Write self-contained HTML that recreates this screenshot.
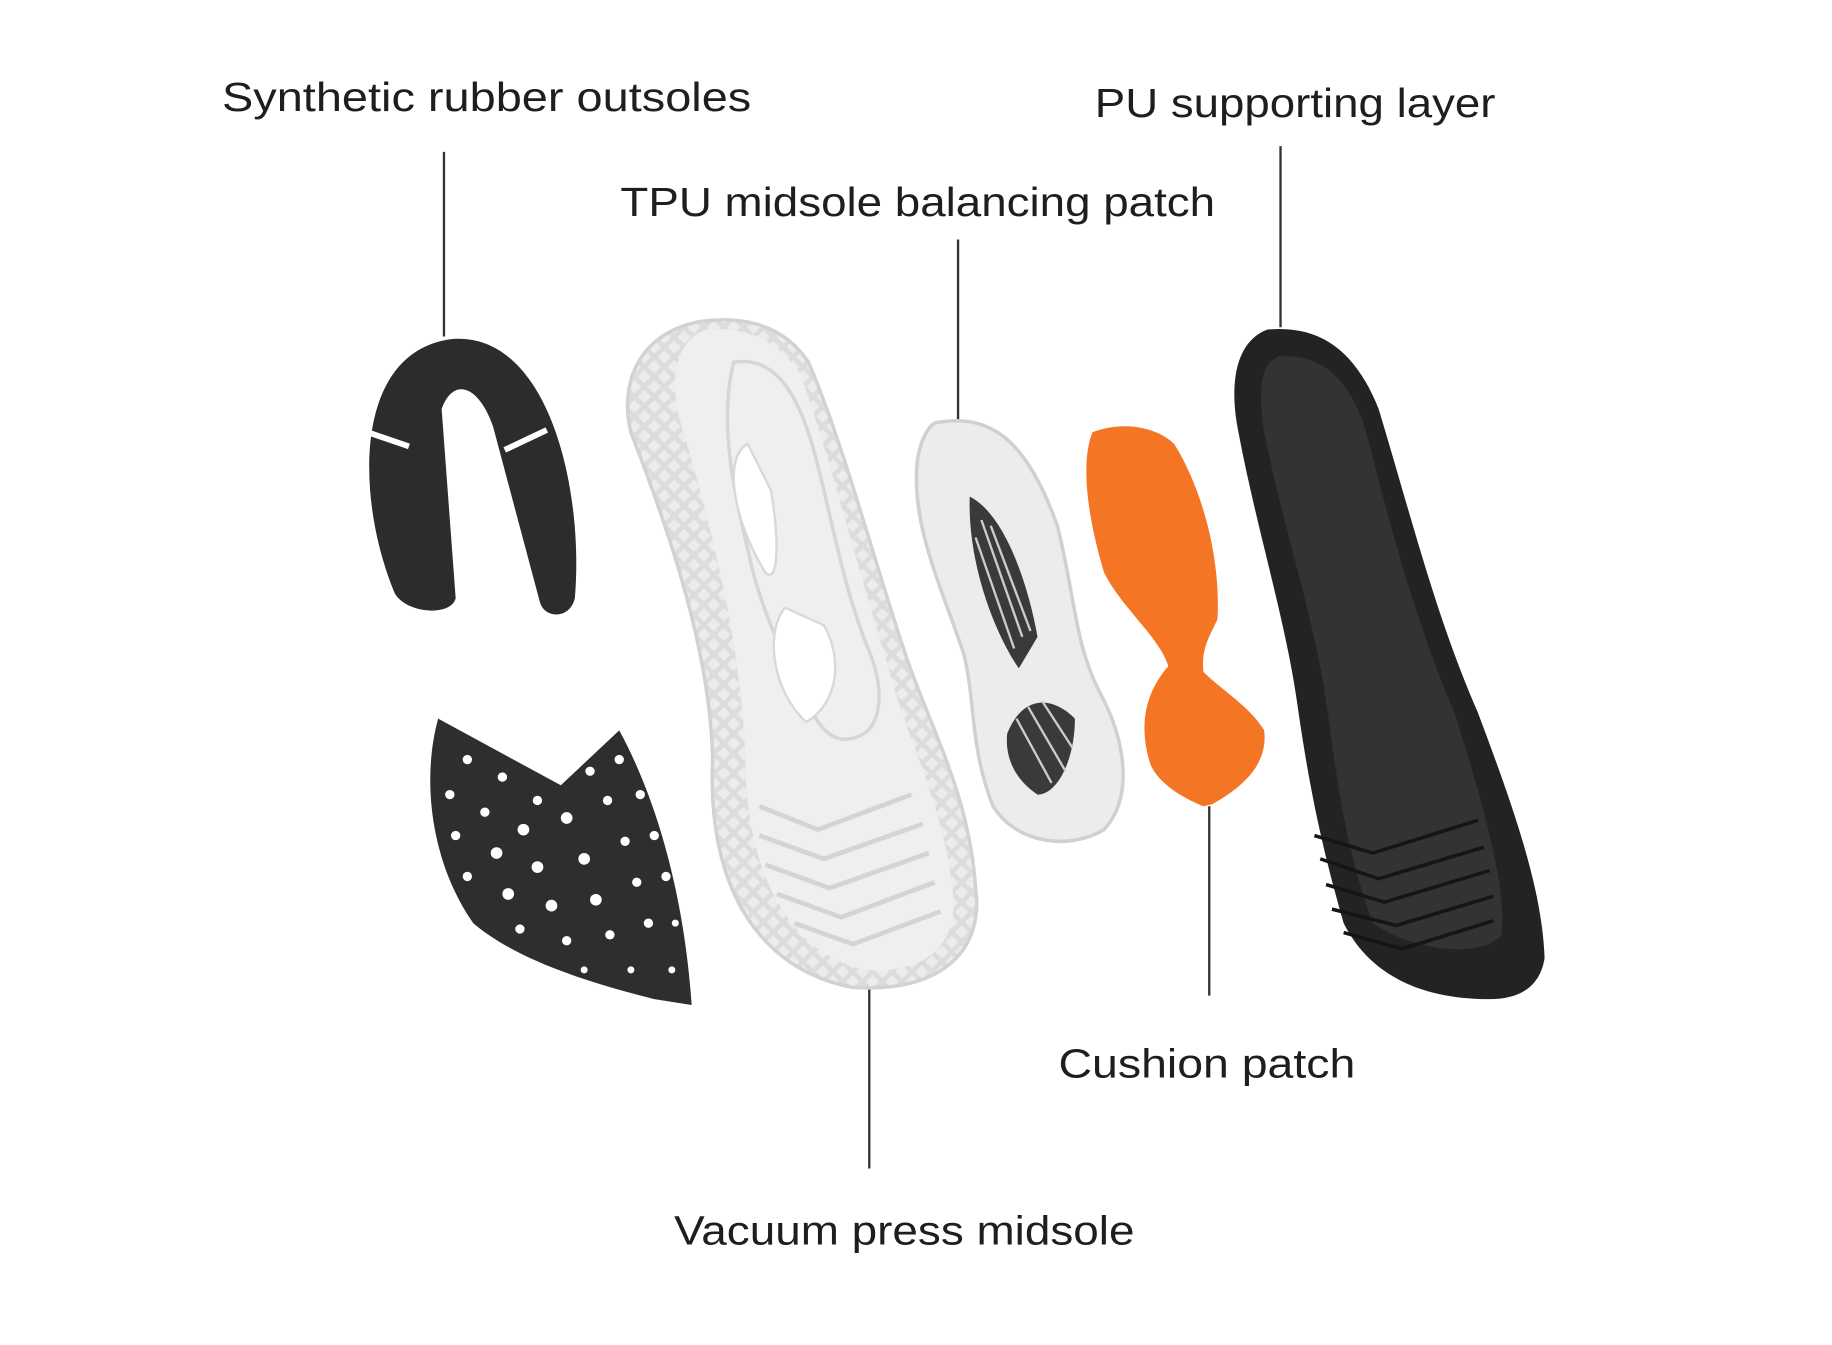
<!DOCTYPE html>
<html><head><meta charset="utf-8"><style>
html,body{margin:0;padding:0;background:#fff;}
svg{display:block;}
text{font-family:"Liberation Sans",sans-serif;fill:#1e1e1e;font-size:35px;}
</style></head><body>
<svg width="1832" height="1345" viewBox="0 0 1568 1151" preserveAspectRatio="none" xmlns="http://www.w3.org/2000/svg">
<defs>
<pattern id="lat" width="12" height="12" patternUnits="userSpaceOnUse" patternTransform="rotate(45)">
<rect width="12" height="12" fill="#dcdcdc"/><rect x="2" y="2" width="8" height="8" fill="#ececec"/>
</pattern>
</defs>
<rect width="1568" height="1151" fill="#fff"/>
<!-- labels -->
<text x="190" y="95" textLength="453" lengthAdjust="spacingAndGlyphs">Synthetic rubber outsoles</text>
<text x="937" y="100" textLength="343" lengthAdjust="spacingAndGlyphs">PU supporting layer</text>
<text x="531" y="185" textLength="509" lengthAdjust="spacingAndGlyphs">TPU midsole balancing patch</text>
<text x="906" y="922" textLength="254" lengthAdjust="spacingAndGlyphs">Cushion patch</text>
<text x="577" y="1065" textLength="394" lengthAdjust="spacingAndGlyphs">Vacuum press midsole</text>
<g stroke="#333" stroke-width="2">
<line x1="380" y1="130" x2="380" y2="288"/>
<line x1="1096" y1="125" x2="1096" y2="280"/>
<line x1="820" y1="205" x2="820" y2="362"/>
<line x1="1035" y1="690" x2="1035" y2="852"/>
<line x1="744" y1="840" x2="744" y2="1000"/>
</g>
<!-- horseshoe outsole -->
<path d="M338,508 C305,430 300,300 388,290 C470,285 500,420 492,512 C488,530 466,530 462,515 L422,365 C410,330 388,322 378,350 L390,512 C386,528 348,525 338,508 Z" fill="#2c2c2c"/>
<path d="M315,370 L350,382" stroke="#fff" stroke-width="5"/>
<path d="M432,385 L468,368" stroke="#fff" stroke-width="5"/>
<!-- mesh forefoot -->
<path d="M375,615 L480,672 L530,625 C560,680 585,760 592,860 L560,855 C500,840 440,820 405,790 C370,740 360,670 375,615 Z" fill="#2e2e2e"/>
<g fill="#fff">
<circle cx="400" cy="650" r="4"/><circle cx="430" cy="665" r="4"/><circle cx="460" cy="685" r="4"/><circle cx="505" cy="660" r="4"/><circle cx="530" cy="650" r="4"/>
<circle cx="385" cy="680" r="4"/><circle cx="415" cy="695" r="4"/><circle cx="448" cy="710" r="5"/><circle cx="485" cy="700" r="5"/><circle cx="520" cy="685" r="4"/><circle cx="548" cy="680" r="4"/>
<circle cx="390" cy="715" r="4"/><circle cx="425" cy="730" r="5"/><circle cx="460" cy="742" r="5"/><circle cx="500" cy="735" r="5"/><circle cx="535" cy="720" r="4"/><circle cx="560" cy="715" r="4"/>
<circle cx="400" cy="750" r="4"/><circle cx="435" cy="765" r="5"/><circle cx="472" cy="775" r="5"/><circle cx="510" cy="770" r="5"/><circle cx="545" cy="755" r="4"/><circle cx="570" cy="750" r="4"/>
<circle cx="445" cy="795" r="4"/><circle cx="485" cy="805" r="4"/><circle cx="522" cy="800" r="4"/><circle cx="555" cy="790" r="4"/><circle cx="578" cy="790" r="3"/>
<circle cx="500" cy="830" r="3"/><circle cx="540" cy="830" r="3"/><circle cx="575" cy="830" r="3"/>
</g>
<!-- white midsole -->
<path d="M600,275 C545,285 530,330 540,370 C575,460 608,560 610,650 C605,760 650,830 730,845 C810,850 842,810 835,760 C830,680 795,620 775,560 C748,480 722,380 692,310 C672,280 640,270 600,275 Z" fill="url(#lat)" stroke="#d2d2d2" stroke-width="3"/>
<path d="M605,282 C575,292 572,330 585,370 C612,460 635,560 638,650 C638,740 672,815 740,830 C800,835 822,800 815,760 C808,690 775,630 760,570 C735,490 710,390 685,320 C665,290 638,280 605,282 Z" fill="#efefef"/>
<path d="M628,310 C660,305 680,330 695,380 C712,440 720,500 745,560 C760,600 750,625 735,630 C712,640 700,620 690,600 C670,560 650,520 640,470 C628,420 615,360 628,310 Z" fill="none" stroke="#d6d6d6" stroke-width="3"/>
<path d="M640,380 C620,390 625,440 655,490 C665,500 668,470 660,420 Z" fill="#fff" stroke="#d8d8d8" stroke-width="2"/>
<path d="M672,520 C655,540 660,590 690,618 C720,600 720,560 705,535 Z" fill="#fff" stroke="#d8d8d8" stroke-width="2"/>
<g fill="none" stroke="#d4d4d4" stroke-width="4">
<path d="M650,690 L700,710 L780,680"/><path d="M650,715 L705,735 L790,705"/><path d="M655,740 L710,760 L795,730"/><path d="M665,765 L720,785 L800,755"/><path d="M680,790 L730,808 L805,780"/>
</g>
<!-- TPU patch -->
<path d="M800,362 C850,352 880,380 905,450 C920,510 920,550 940,590 C962,630 972,680 945,710 C915,728 870,722 850,690 C830,640 835,600 825,560 C805,500 780,450 785,395 C788,375 795,365 800,362 Z" fill="#ececec" stroke="#d0d0d0" stroke-width="3"/>
<path d="M830,425 C860,440 880,500 888,545 L872,572 C850,540 828,480 830,425 Z" fill="#3a3a3a"/>
<path d="M862,628 C875,595 900,595 920,615 C920,650 905,680 888,680 C870,668 860,650 862,628 Z" fill="#3a3a3a"/>
<g stroke="#ccc" stroke-width="2">
<line x1="840" y1="445" x2="875" y2="545"/><line x1="848" y1="450" x2="882" y2="540"/><line x1="835" y1="460" x2="868" y2="555"/>
<line x1="870" y1="615" x2="900" y2="670"/><line x1="880" y1="605" x2="912" y2="660"/><line x1="892" y1="600" x2="918" y2="640"/>
</g>
<!-- orange cushion -->
<path d="M935,370 C960,360 990,365 1005,380 C1030,420 1045,480 1042,530 C1035,545 1028,555 1030,575 C1045,590 1070,605 1082,625 C1085,650 1070,670 1038,688 L1030,690 C1010,682 992,670 985,655 C975,625 978,595 1000,570 C992,545 960,520 945,490 C930,440 925,395 935,370 Z" fill="#f47524"/>
<!-- PU insole -->
<path d="M1085,282 C1130,278 1160,300 1180,350 C1210,450 1230,530 1265,610 C1295,690 1320,760 1322,820 C1318,845 1300,855 1275,855 C1210,855 1170,830 1150,790 C1130,720 1120,670 1110,600 C1100,530 1075,450 1060,370 C1050,320 1062,290 1085,282 Z" fill="#232323"/>
<path d="M1095,305 C1135,302 1160,330 1172,380 C1195,470 1215,540 1245,610 C1270,690 1290,760 1285,800 C1270,820 1210,815 1175,790 C1150,720 1145,670 1135,600 C1125,530 1098,450 1082,370 C1076,330 1080,310 1095,305 Z" fill="#333"/>
<g fill="none" stroke="#151515" stroke-width="3">
<path d="M1125,715 L1175,730 L1265,702"/><path d="M1130,735 L1180,752 L1270,725"/><path d="M1135,757 L1185,772 L1275,745"/><path d="M1140,778 L1195,792 L1278,767"/><path d="M1150,798 L1200,812 L1278,788"/>
</g>
</svg>
</body></html>
